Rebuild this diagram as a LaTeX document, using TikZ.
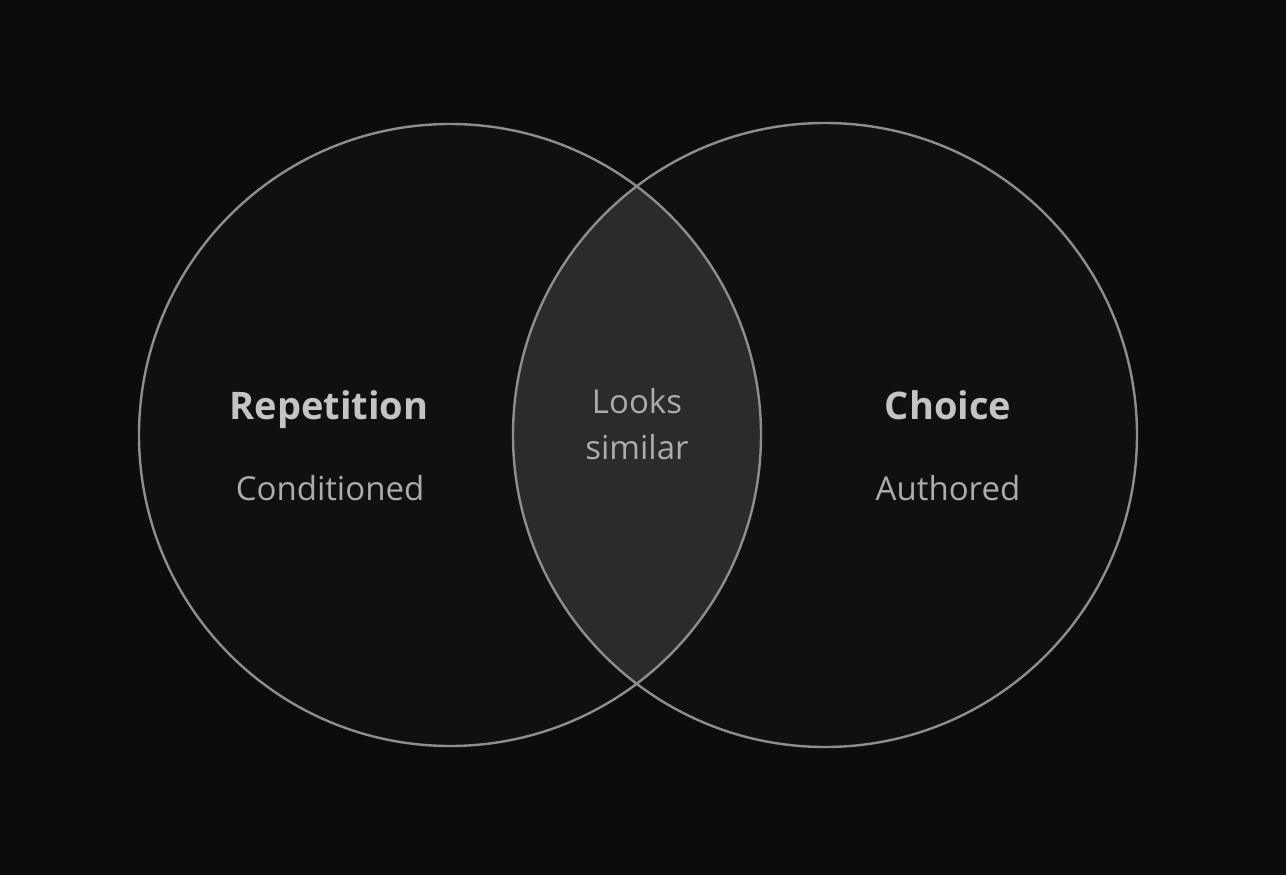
\documentclass[tikz,border=0pt]{standalone}
\usepackage{fontspec}
\setmainfont{Open Sans}
\definecolor{bg}{HTML}{0C0C0C}
\definecolor{disc}{HTML}{101010}
\definecolor{lens}{HTML}{2B2B2B}
\definecolor{ring}{HTML}{8E8E8E}
\definecolor{headtext}{HTML}{C4C4C4}
\definecolor{subtext}{HTML}{ACACAC}
\tikzset{
  ringline/.style={draw=ring, line width=2.4pt},
  headlabel/.style={text=headtext, font=\fontsize{38}{44}\selectfont\bfseries, inner sep=0pt, anchor=base},
  sublabel/.style={text=subtext, font=\fontsize{33}{46}\selectfont, inner sep=0pt, anchor=base},
}
\begin{document}
\begin{tikzpicture}[x=1pt,y=-1pt]
\fill[bg] (0,0) rectangle (1286,875);
\useasboundingbox (0,0) rectangle (1286,875);
\coordinate (cl) at (450,435);
\coordinate (cr) at (825,435);
\fill[disc] (cl) circle[radius=311];
\fill[disc] (cr) circle[radius=312];
\begin{scope}
  \clip (cl) circle[radius=311];
  \fill[lens] (cr) circle[radius=312];
\end{scope}
\draw[ringline] (cl) circle[radius=311];
\draw[ringline] (cr) circle[radius=312];
\node[headlabel] (rep) at (329,419) {Repetition};
\node[sublabel] (cond) at (330,500) {Conditioned};
\node[sublabel] (looks) at (637,413) {Looks};
\node[sublabel] (sim) at (637,459) {similar};
\node[headlabel] (choice) at (948,419) {Choice};
\node[sublabel] (auth) at (948,500) {Authored};
\end{tikzpicture}
\end{document}
